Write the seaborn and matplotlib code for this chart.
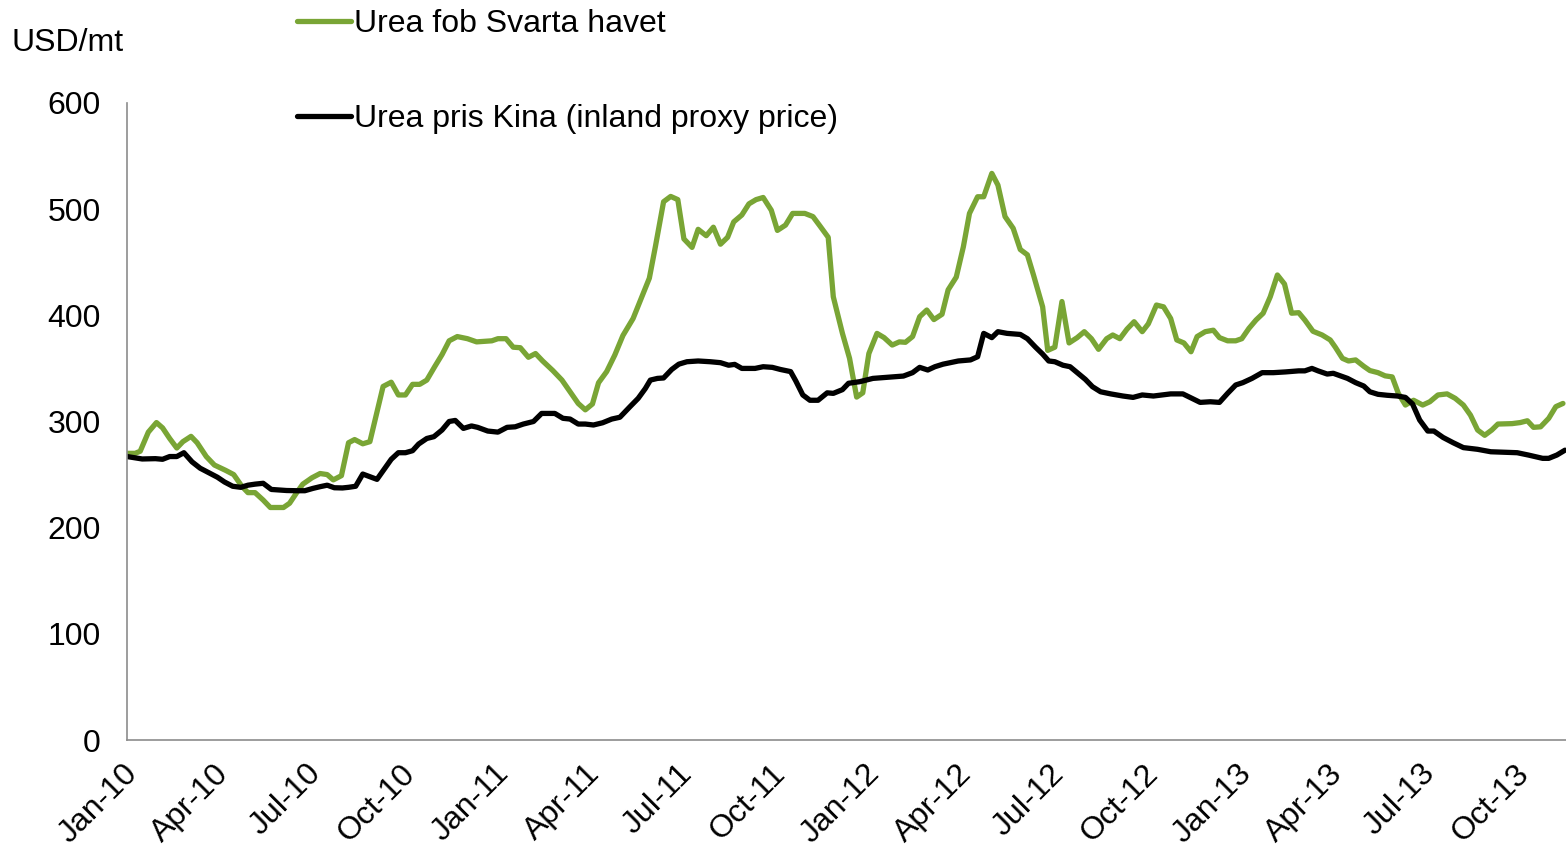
import pandas as pd
import matplotlib
matplotlib.use("Agg")
import matplotlib.pyplot as plt
import matplotlib.dates as mdates
import matplotlib.transforms as mtransforms
import seaborn as sns

# === data (USD/mt) ===
green_label = "Urea fob Svarta havet"
black_label = "Urea pris Kina (inland proxy price)"

green_dates = [
    "2010-01-01", "2010-01-09", "2010-01-14", "2010-01-22", "2010-01-30", "2010-02-05", "2010-02-12", "2010-02-19",
    "2010-02-25", "2010-03-05", "2010-03-11", "2010-03-20", "2010-03-28", "2010-04-08", "2010-04-16", "2010-04-24",
    "2010-04-30", "2010-05-07", "2010-05-15", "2010-05-22", "2010-06-04", "2010-06-10", "2010-06-17", "2010-06-23",
    "2010-07-02", "2010-07-10", "2010-07-17", "2010-07-23", "2010-07-31", "2010-08-07", "2010-08-13", "2010-08-21",
    "2010-08-28", "2010-09-10", "2010-09-18", "2010-09-25", "2010-10-02", "2010-10-09", "2010-10-16", "2010-10-23",
    "2010-10-31", "2010-11-07", "2010-11-14", "2010-11-22", "2010-12-02", "2010-12-11", "2010-12-26",
    "2011-01-01", "2011-01-09", "2011-01-16", "2011-01-23", "2011-01-31", "2011-02-07", "2011-02-14", "2011-02-24",
    "2011-03-05", "2011-03-13", "2011-03-21", "2011-03-28", "2011-04-04", "2011-04-10", "2011-04-18", "2011-04-26",
    "2011-05-04", "2011-05-14", "2011-05-30", "2011-06-05", "2011-06-13", "2011-06-20", "2011-06-27", "2011-07-03",
    "2011-07-11", "2011-07-17", "2011-07-25", "2011-08-01", "2011-08-08", "2011-08-15", "2011-08-21", "2011-08-29",
    "2011-09-05", "2011-09-12", "2011-09-19", "2011-09-27", "2011-10-03", "2011-10-11", "2011-10-18", "2011-10-30",
    "2011-11-07", "2011-11-14", "2011-11-22", "2011-11-27", "2011-12-06", "2011-12-13", "2011-12-20", "2011-12-26",
    "2012-01-01", "2012-01-09", "2012-01-16", "2012-01-24", "2012-01-31", "2012-02-06", "2012-02-13", "2012-02-20",
    "2012-02-27", "2012-03-05", "2012-03-13", "2012-03-19", "2012-03-27", "2012-04-03", "2012-04-09", "2012-04-17",
    "2012-04-23", "2012-05-01", "2012-05-07", "2012-05-14", "2012-05-22", "2012-05-29", "2012-06-05", "2012-06-11",
    "2012-06-20", "2012-06-25", "2012-07-02", "2012-07-09", "2012-07-16", "2012-07-24", "2012-07-31", "2012-08-07",
    "2012-08-14", "2012-08-22", "2012-08-28", "2012-09-04", "2012-09-11", "2012-09-18", "2012-09-26", "2012-10-02",
    "2012-10-10", "2012-10-17", "2012-10-24", "2012-10-30", "2012-11-06", "2012-11-13", "2012-11-19", "2012-11-27",
    "2012-12-05", "2012-12-11", "2012-12-19", "2012-12-27",
    "2013-01-02", "2013-01-09", "2013-01-16", "2013-01-23", "2013-01-30", "2013-02-06", "2013-02-13", "2013-02-20",
    "2013-02-27", "2013-03-05", "2013-03-13", "2013-03-22", "2013-03-30", "2013-04-04", "2013-04-11", "2013-04-17",
    "2013-04-24", "2013-05-02", "2013-05-08", "2013-05-16", "2013-05-23", "2013-05-30", "2013-06-05", "2013-06-12",
    "2013-06-20", "2013-06-29", "2013-07-06", "2013-07-14", "2013-07-23", "2013-07-31", "2013-08-08", "2013-08-15",
    "2013-08-22", "2013-08-29", "2013-09-05", "2013-09-11", "2013-09-25", "2013-10-03", "2013-10-10", "2013-10-16",
    "2013-10-23", "2013-10-31", "2013-11-07", "2013-11-14",
]
green_values = [
    270, 270, 272, 290, 299, 294, 284, 275, 281, 286, 280, 267, 259, 254, 250, 239, 233, 233, 226, 219,
    219, 223, 233, 241, 247, 251, 250, 245, 249, 280, 283, 279, 281, 333, 337, 325, 325, 335, 335, 339,
    352, 363, 376, 380, 378, 375, 376,
    378, 378, 370, 369.5, 360.5, 364, 357, 348, 339, 328, 317, 311, 316.5, 336.5, 347, 362.6, 381, 397, 435, 465,
    507, 512, 509, 472, 464, 481, 475, 483, 467, 473.5, 488, 494.5, 505, 509, 511, 499, 480, 485, 496, 496,
    493, 484, 473.5, 417.5, 383, 359.5, 323, 327,
    364, 383, 379, 372, 375, 374.6, 380, 398.7, 405, 396, 401, 424, 436, 464.6, 496, 511.7, 511.7, 533.7, 522.7, 493,
    482, 462, 457, 438, 408, 367, 370, 413, 374, 379, 384.6, 378, 368, 378, 381.5, 378, 387, 394, 384.6, 392,
    409.7, 408, 397, 376.8, 374, 365.7, 380, 384.6, 386, 379, 376, 376,
    378, 387.7, 395.6, 402, 417.5, 438, 429.5, 402, 402.5, 395.6, 385, 381.5, 376.8, 370, 359.5, 357, 358, 352, 348, 346,
    343, 342, 326.5, 315.5, 320, 315.5, 318.6, 325, 326, 321.8, 315.5, 306, 292, 287, 292, 297.6, 298, 299, 300.7, 294.5,
    295, 303, 314, 317,
]

black_dates = [
    "2010-01-01", "2010-01-16", "2010-01-29", "2010-02-05", "2010-02-12", "2010-02-19", "2010-02-26", "2010-03-06",
    "2010-03-14", "2010-03-22", "2010-03-31", "2010-04-07", "2010-04-15", "2010-04-23", "2010-04-30", "2010-05-07",
    "2010-05-15", "2010-05-23", "2010-05-30", "2010-06-07", "2010-06-17", "2010-06-25", "2010-07-03", "2010-07-10",
    "2010-07-17", "2010-07-24", "2010-08-01", "2010-08-07", "2010-08-14", "2010-08-21", "2010-08-28", "2010-09-04",
    "2010-09-11", "2010-09-18", "2010-09-25", "2010-10-02", "2010-10-09", "2010-10-15", "2010-10-23", "2010-10-30",
    "2010-11-07", "2010-11-14", "2010-11-20", "2010-11-28", "2010-12-06", "2010-12-12", "2010-12-22",
    "2011-01-01", "2011-01-10", "2011-01-18", "2011-01-26", "2011-02-05", "2011-02-13", "2011-02-26", "2011-03-06",
    "2011-03-13", "2011-03-21", "2011-03-28", "2011-04-05", "2011-04-14", "2011-04-23", "2011-05-01", "2011-05-11",
    "2011-05-19", "2011-05-26", "2011-05-31", "2011-06-07", "2011-06-13", "2011-06-21", "2011-06-28", "2011-07-06",
    "2011-07-17", "2011-07-29", "2011-08-08", "2011-08-16", "2011-08-22", "2011-08-29", "2011-09-11", "2011-09-19",
    "2011-09-28", "2011-10-06", "2011-10-16", "2011-10-21", "2011-10-28", "2011-11-04", "2011-11-12", "2011-11-21",
    "2011-11-27", "2011-12-06", "2011-12-12", "2011-12-23",
    "2012-01-05", "2012-01-19", "2012-02-04", "2012-02-13", "2012-02-20", "2012-02-28", "2012-03-06", "2012-03-14",
    "2012-03-21", "2012-03-29", "2012-04-10", "2012-04-17", "2012-04-23", "2012-05-01", "2012-05-07", "2012-05-16",
    "2012-05-29", "2012-06-05", "2012-06-13", "2012-06-20", "2012-06-26", "2012-07-02", "2012-07-10", "2012-07-17",
    "2012-07-24", "2012-08-01", "2012-08-08", "2012-08-16", "2012-08-26", "2012-09-07", "2012-09-17", "2012-09-26",
    "2012-10-07", "2012-10-24", "2012-11-05", "2012-11-14", "2012-11-22", "2012-12-02", "2012-12-11", "2012-12-19",
    "2012-12-27",
    "2013-01-03", "2013-01-12", "2013-01-22", "2013-02-02", "2013-02-14", "2013-02-27", "2013-03-05", "2013-03-12",
    "2013-03-18", "2013-03-27", "2013-04-02", "2013-04-09", "2013-04-16", "2013-04-24", "2013-05-02", "2013-05-08",
    "2013-05-16", "2013-05-25", "2013-06-04", "2013-06-12", "2013-06-19", "2013-06-26", "2013-07-04", "2013-07-10",
    "2013-07-19", "2013-07-29", "2013-08-08", "2013-08-22", "2013-09-04", "2013-09-20", "2013-09-30", "2013-10-11",
    "2013-10-25", "2013-10-31", "2013-11-08", "2013-11-16",
]
black_values = [
    267, 264.7, 265, 264.4, 267, 267, 270.6, 262, 256, 252, 247.5, 243, 239, 238, 240, 241, 241.8, 236, 235.5, 235,
    234.8, 234.8, 237, 238.6, 240, 237.6, 237.4, 238, 239, 250.5, 248, 245.5, 255, 264.4, 270.6, 270.6, 272.5, 278.8,
    284, 285.7, 292, 300, 301, 293.5, 295.8, 294.5, 291,
    290, 294.5, 295, 297.6, 300, 307.6, 307.6, 303, 302.3, 297.6, 297.6, 296.7, 298.8, 302.3, 304, 314, 321.8, 331,
    339, 340.6, 341, 349, 354, 356.3, 357, 356.3, 355.4, 353, 353.8, 350, 350, 351.6, 351, 349, 347, 338.4, 325, 320,
    320, 327, 326.5, 330, 336, 337.5,
    340.6, 341.6, 342.8, 346, 351, 348.5, 351.6, 354, 355.4, 357, 358, 361, 383, 379, 384.6, 383, 382, 378, 370,
    363.5, 357, 356.3, 353, 351.6, 346, 339.7, 332.8, 328, 326, 324, 322.7, 325, 324, 326, 326, 321.8, 318, 318.6,
    318, 326.5, 334.4,
    336.6, 340.6, 346, 346, 346.7, 347.7, 347.7, 350, 347.7, 344.7, 345.4, 343, 340.6, 336.6, 333.4, 328, 325.6,
    324.7, 324, 322.7, 316.5, 301.4, 291, 291, 285, 280, 275.4, 273.8, 271.5, 271, 270.6, 268.4, 265.3, 265.3,
    268.4, 273,
]

# === build long-form frame ===
df = pd.concat([
    pd.DataFrame({"date": pd.to_datetime(green_dates), "price": green_values, "series": green_label}),
    pd.DataFrame({"date": pd.to_datetime(black_dates), "price": black_values, "series": black_label}),
], ignore_index=True)

palette = {green_label: "#79A535", black_label: "#000000"}

# === style ===
sns.set_style("white")
plt.rcParams["font.family"] = ["Liberation Sans", "DejaVu Sans"]
plt.rcParams["text.color"] = "black"
plt.rcParams["xtick.color"] = "black"
plt.rcParams["ytick.color"] = "black"
FS = 23

fig = plt.figure(figsize=(15.66, 8.49), dpi=100)
ax = fig.add_axes([127 / 1566, 1 - 740 / 849, 1 - 127 / 1566, (740 - 103) / 849])

sns.lineplot(data=df, x="date", y="price", hue="series", palette=palette,
             estimator=None, linewidth=3.8, ax=ax)

# === axes ===
ax.set_ylim(0, 600)
ax.set_yticks([0, 100, 200, 300, 400, 500, 600])
ax.set_xlim(pd.Timestamp("2010-01-01"), pd.Timestamp("2013-11-17"))
ax.set_xticks(pd.date_range("2010-01-01", "2013-10-01", freq="QS"))
ax.xaxis.set_major_formatter(mdates.DateFormatter("%b-%y"))
ax.set_xlabel("")
ax.set_ylabel("")

for side in ["top", "right"]:
    ax.spines[side].set_visible(False)
for side in ["left", "bottom"]:
    ax.spines[side].set_color("#8c8c8c")
    ax.spines[side].set_linewidth(1.2)

ax.tick_params(axis="y", length=0, pad=19, labelsize=FS)
ax.tick_params(axis="x", length=0, pad=21, labelsize=FS)
shift = mtransforms.ScaledTranslation(6 / 100, 0, fig.dpi_scale_trans)
for lbl in ax.get_xticklabels():
    lbl.set_rotation(45)
    lbl.set_ha("right")
    lbl.set_va("center")
    lbl.set_rotation_mode("anchor")
    lbl.set_transform(lbl.get_transform() + shift)

# === unit label and legend ===
fig.text(12 / 1566, 1 - 43 / 849, "USD/mt", fontsize=FS, ha="left", va="center")

handles, labels = ax.get_legend_handles_labels()
ax.legend(handles, labels, loc="upper left", bbox_to_anchor=(297 / 1566, 1 - 9 / 849),
          bbox_transform=fig.transFigure, frameon=False, fontsize=FS,
          handlelength=1.7, handletextpad=0.1, labelspacing=2.05,
          borderpad=0, borderaxespad=0)

fig.savefig("out.png", dpi=100)
